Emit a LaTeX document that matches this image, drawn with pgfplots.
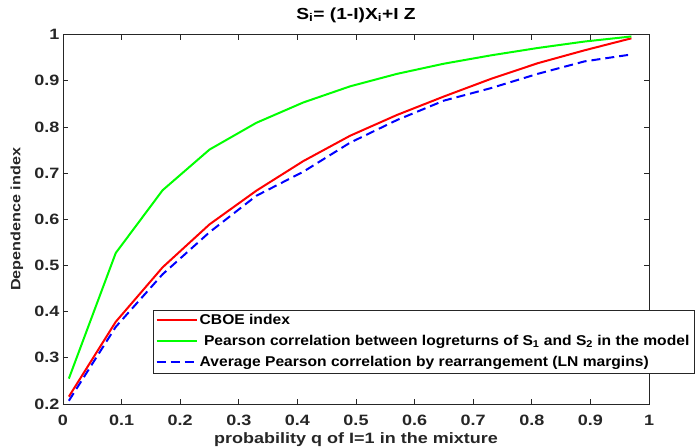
\documentclass[border=0pt]{standalone}
\usepackage{fontspec}
\setmainfont{Liberation Sans}[FakeStretch=1.2]
\newfontfamily\legfont{Liberation Sans}[FakeStretch=1.1]
\usepackage{pgfplots}
\pgfplotsset{compat=1.18}

\definecolor{axgray}{rgb}{0.15,0.15,0.15}

\begin{document}
\bfseries
\begin{tikzpicture}
% fixed page frame: axis box sits at (0,0)-(586bp,369.4bp)
\useasboundingbox (-63bp,-43bp) rectangle (633bp,404bp);
\begin{axis}[
    name=ax,
    at={(0,0)}, anchor=south west,
    scale only axis,
    width=586bp, height=369.4bp,
    xmin=0, xmax=1, ymin=0.2, ymax=1,
    xtick={0,0.1,...,1}, ytick={0.2,0.3,...,1},
    /pgf/number format/assume math mode=true,
    tick align=inside,
    major tick length=5bp,
    axis line style={axgray, line width=0.7bp},
    every tick/.style={axgray, line width=0.7bp},
    tick label style={font=\fontsize{15bp}{17bp}\selectfont\bfseries, text=axgray},
    xticklabel style={yshift=-8bp},
    title={S\textsubscript{i}= (1-I)X\textsubscript{i}+I Z},
    title style={at={(axis description cs:0.5,1)}, anchor=base, yshift=9.6bp,
        font=\fontsize{16bp}{18bp}\selectfont\bfseries},
    xlabel={probability q of I=1 in the mixture},
    xlabel style={at={(axis description cs:0.5,0)}, anchor=base, yshift=-39.5bp,
        font=\fontsize{15bp}{17bp}\selectfont\bfseries, text=axgray},
    ylabel={Dependence index},
    ylabel style={at={(axis description cs:-0.0785,0.5)}, anchor=center,
        font=\fontsize{13.5bp}{16bp}\selectfont\bfseries, text=axgray},
    legend style={at={(0.1536,0.084)}, anchor=south west, draw=axgray,
        font=\legfont\fontsize{14.2bp}{17bp}\selectfont\bfseries, row sep=5.2bp,
        inner sep=2.5bp},
    legend cell align=left,
    legend image code/.code={\draw[#1] (0bp,0bp) -- (40bp,0bp);},
]
\addplot[red, line width=2bp] coordinates {
    (0.01,0.216) (0.09,0.378) (0.17,0.496) (0.25,0.589) (0.33,0.662)
    (0.41,0.726) (0.49,0.781) (0.57,0.826) (0.65,0.866) (0.73,0.904)
    (0.81,0.938) (0.89,0.966) (0.97,0.992)
};
\addlegendentry{CBOE index}
\addplot[green, line width=2bp] coordinates {
    (0.01,0.255) (0.09,0.527) (0.17,0.663) (0.25,0.751) (0.33,0.809)
    (0.41,0.853) (0.49,0.888) (0.57,0.915) (0.65,0.937) (0.73,0.955)
    (0.81,0.971) (0.89,0.985) (0.97,0.996)
};
\addlegendentry{\ Pearson correlation between logreturns of S\textsubscript{1} and S\textsubscript{2} in the model}
\addplot[blue, line width=2bp, dash pattern=on 9bp off 5bp] coordinates {
    (0.01,0.207) (0.09,0.367) (0.17,0.481) (0.25,0.572) (0.33,0.651)
    (0.41,0.703) (0.49,0.766) (0.57,0.815) (0.65,0.857) (0.73,0.884)
    (0.81,0.915) (0.89,0.942) (0.97,0.957)
};
\addlegendentry{Average Pearson correlation by rearrangement (LN margins)}
\end{axis}
\end{tikzpicture}
\end{document}
